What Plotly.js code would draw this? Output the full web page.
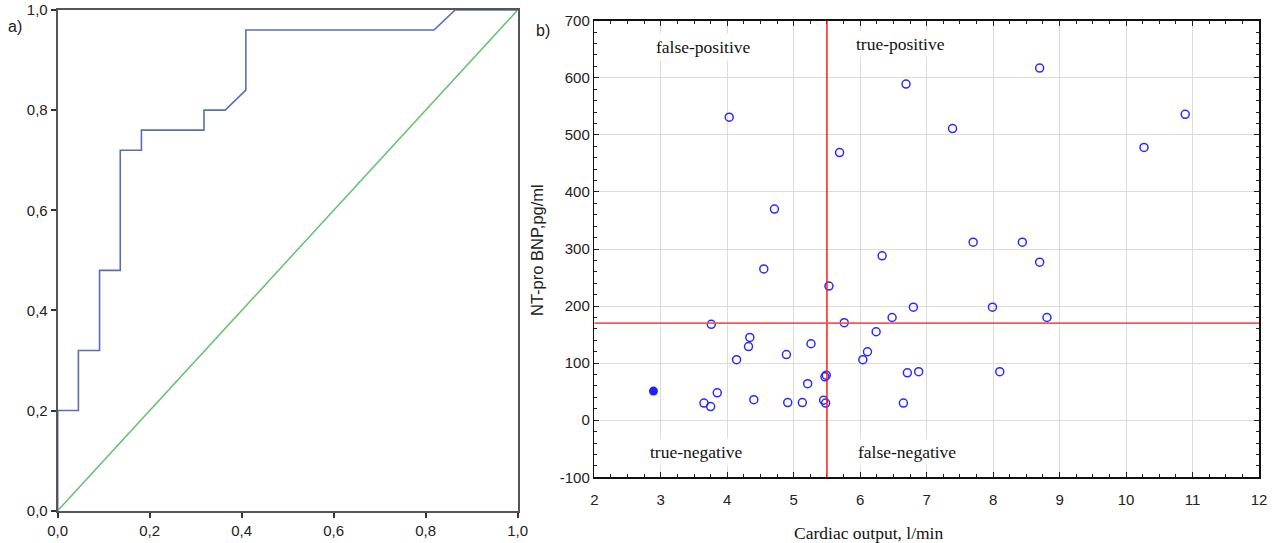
<!DOCTYPE html>
<html>
<head>
<meta charset="utf-8">
<script src="https://cdn.plot.ly/plotly-3.0.1.min.js"></script>
<style>html,body{margin:0;padding:0;background:#fff;}#chart{width:1277px;height:543px;}</style>
</head>
<body>
<div id="chart"></div>
<script>
// ---- Panel a) ROC curve ----
const rocFPR = [0, 0, 0.045, 0.045, 0.091, 0.091, 0.136, 0.136, 0.182, 0.182, 0.318, 0.318, 0.364, 0.409, 0.409, 0.818, 0.864, 1.0];
const rocTPR = [0, 0.20, 0.20, 0.32, 0.32, 0.48, 0.48, 0.72, 0.72, 0.76, 0.76, 0.80, 0.80, 0.84, 0.96, 0.96, 1.00, 1.0];
const refX = [0, 1];
const refY = [0, 1];
const rocTickVals = [0, 0.2, 0.4, 0.6, 0.8, 1.0];
const rocTickText = ["0,0", "0,2", "0,4", "0,6", "0,8", "1,0"];

// ---- Panel b) scatter ----
const cardiacOutput = [4.03, 4.71, 5.69, 6.69, 7.39, 8.70, 10.89, 10.27, 7.70, 8.44,
  4.55, 6.33, 5.53, 3.76, 5.76, 6.48, 6.24, 4.34, 4.32, 5.26,
  6.11, 6.04, 4.14, 4.89, 5.49, 5.47, 5.21, 3.85, 3.65, 3.75,
  4.40, 4.91, 5.13, 5.45, 5.48, 8.70, 6.80, 7.99, 8.81, 6.71,
  6.88, 8.10, 6.65];
const ntProBNP = [531, 370, 469, 589, 511, 617, 536, 478, 312, 312,
  265, 288, 235, 168, 171, 180, 155, 145, 129, 134,
  120, 106, 106, 115, 79, 76, 64, 48, 30, 24,
  36, 31, 31, 35, 30, 277, 198, 198, 180, 83,
  85, 85, 30];
const highlightCO = [2.89];
const highlightBNP = [51];
const cutoffCO = 5.5;
const cutoffBNP = 170;
const bnpTickVals = [-100, 0, 100, 200, 300, 400, 500, 600, 700];
const bnpTickText = ["-100", "0", "100", "200", "300", "400", "500", "600", "700"];
const quadrantLabels = ["false-positive", "true-positive", "true-negative", "false-negative"];
const xTitleB = "Cardiac output, l/min";
const yTitleB = "NT-pro BNP,pg/ml";

const W = 1277, H = 543;
const px = v => v / W;
const py = v => 1 - v / H;
const sans = "Liberation Sans, Arial, sans-serif";
const serif = "Liberation Serif, Times New Roman, serif";

const traces = [
  {x: refX, y: refY, xaxis: 'x', yaxis: 'y', mode: 'lines', line: {color: '#63c26c', width: 1.5}, hoverinfo: 'skip'},
  {x: rocFPR, y: rocTPR, xaxis: 'x', yaxis: 'y', mode: 'lines', line: {color: '#5a6db5', width: 1.6}},
  {x: cardiacOutput, y: ntProBNP, xaxis: 'x2', yaxis: 'y2', mode: 'markers',
   marker: {symbol: 'circle-open', size: 8, color: '#2a2aff', line: {width: 1.5, color: '#2a2aff'}}},
  {x: highlightCO, y: highlightBNP, xaxis: 'x2', yaxis: 'y2', mode: 'markers',
   marker: {symbol: 'circle', size: 9, color: '#1f1fff'}}
];

function note(text, x, y, font, extra) {
  return Object.assign({text: text, xref: 'paper', yref: 'paper', x: px(x), y: py(y),
    xanchor: 'center', yanchor: 'middle', showarrow: false, font: font}, extra || {});
}

const quadFont = {family: serif, size: 17.5, color: '#111'};

const layout = {
  width: W, height: H,
  margin: {l: 0, r: 0, t: 0, b: 0},
  paper_bgcolor: '#fff', plot_bgcolor: '#fff',
  showlegend: false,
  font: {family: sans, size: 15, color: '#222'},
  xaxis: {
    domain: [px(57.7), px(517.7)], range: [0, 1], anchor: 'y',
    tickvals: rocTickVals, ticktext: rocTickText,
    ticks: 'outside', ticklen: 5, tickwidth: 2, tickcolor: '#333',
    showline: true, linecolor: '#555', linewidth: 2, mirror: true,
    showgrid: false, zeroline: false, fixedrange: true,
    tickfont: {family: sans, size: 15, color: '#222'}
  },
  yaxis: {
    domain: [py(510.7), py(10)], range: [0, 1], anchor: 'x',
    tickvals: rocTickVals, ticktext: rocTickText,
    ticks: 'outside', ticklen: 5, tickwidth: 2, tickcolor: '#333',
    showline: true, linecolor: '#555', linewidth: 2, mirror: true,
    showgrid: false, zeroline: false, fixedrange: true,
    tickfont: {family: sans, size: 15, color: '#222'}
  },
  xaxis2: {
    domain: [px(594.3), px(1259)], range: [2, 12], anchor: 'y2',
    dtick: 1, ticks: 'inside', ticklen: 5, tickcolor: '#222',
    minor: {dtick: 0.25, ticks: 'inside', ticklen: 3, tickcolor: '#222', showgrid: false},
    showline: true, linecolor: '#111', linewidth: 1.5, mirror: 'allticks',
    showgrid: true, gridcolor: '#dcdcdc', gridwidth: 1, zeroline: false, fixedrange: true,
    ticklabelstandoff: 8,
    tickfont: {family: sans, size: 15, color: '#222'}
  },
  yaxis2: {
    domain: [py(477.3), py(20.7)], range: [-100, 700], anchor: 'x2',
    tickmode: 'array', tickvals: bnpTickVals, ticktext: bnpTickText,
    ticks: 'inside', ticklen: 5, tickcolor: '#222',
    minor: {tickmode: 'linear', tick0: 0, dtick: 20, ticks: 'inside', ticklen: 3, tickcolor: '#222', showgrid: false},
    showline: true, linecolor: '#111', linewidth: 1.5, mirror: 'allticks',
    showgrid: true, gridcolor: '#dcdcdc', gridwidth: 1, zeroline: false, fixedrange: true,
    tickfont: {family: sans, size: 15, color: '#222'}
  },
  shapes: [
    {type: 'line', xref: 'x2', yref: 'y2 domain', x0: cutoffCO, x1: cutoffCO, y0: 0, y1: 1,
     line: {color: '#ff1a1a', width: 1.5}},
    {type: 'line', xref: 'x2 domain', yref: 'y2', x0: 0, x1: 1, y0: cutoffBNP, y1: cutoffBNP,
     line: {color: '#f25a5a', width: 1.8}}
  ],
  annotations: [
    note('a)', 15, 27, {family: sans, size: 16, color: '#222'}),
    note('b)', 543, 31, {family: sans, size: 16, color: '#222'}),
    note(quadrantLabels[0], 703, 47, quadFont, {bgcolor: '#fff', borderpad: 3}),
    note(quadrantLabels[1], 900, 44, quadFont, {bgcolor: '#fff', borderpad: 3}),
    note(quadrantLabels[2], 696, 452, quadFont, {bgcolor: '#fff', borderpad: 3}),
    note(quadrantLabels[3], 907, 452, quadFont, {bgcolor: '#fff', borderpad: 3}),
    note(xTitleB, 868, 533, {family: serif, size: 17.5, color: '#111'}),
    note(yTitleB, 537, 250, {family: sans, size: 16.5, color: '#222'}, {textangle: -90})
  ]
};

Plotly.newPlot('chart', traces, layout, {displayModeBar: false, staticPlot: true});
</script>
</body>
</html>
